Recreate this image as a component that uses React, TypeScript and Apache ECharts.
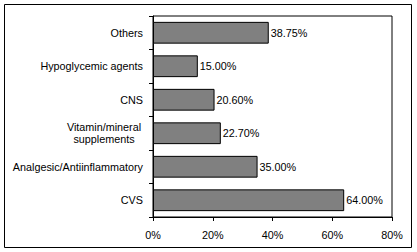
import React, { useEffect, useRef } from "react";
import * as echarts from "echarts";

const categories = [
  "CVS",
  "Analgesic/Antiinflammatory",
  "Vitamin/mineral supplements",
  "CNS",
  "Hypoglycemic agents",
  "Others",
];
const values = [64.0, 35.0, 22.7, 20.6, 15.0, 38.75];
const xTicks = [0, 20, 40, 60, 80];

export default function App() {
  const ref = useRef<HTMLDivElement>(null);
  useEffect(() => {
    document.body.style.margin = "0";
    const chart = echarts.init(ref.current!, null, { renderer: "svg" });
    const font = "Arial, 'Liberation Sans', sans-serif";
    const fs = 10.8;
    chart.setOption({
      animation: false,
      backgroundColor: "#fff",
      graphic: [
        {
          type: "rect",
          shape: { x: 4.5, y: 4.5, width: 407, height: 243 },
          style: { fill: "none", stroke: "#000", lineWidth: 1 },
          silent: true,
        },
      ],
      grid: {
        left: 153,
        top: 16,
        right: 25,
        bottom: 35,
        show: true,
        borderColor: "#000",
        borderWidth: 1,
        backgroundColor: "transparent",
      },
      xAxis: {
        type: "value",
        min: 0,
        max: 80,
        interval: 20,
        splitLine: { show: false },
        axisLine: { show: true, lineStyle: { color: "#000" } },
        axisTick: { show: true, length: 4, lineStyle: { color: "#000" } },
        axisLabel: {
          color: "#000",
          fontFamily: font,
          fontSize: fs,
          margin: 12,
          formatter: (v: number) => (xTicks.includes(v) ? v + "%" : ""),
        },
      },
      yAxis: {
        type: "category",
        data: categories,
        axisLine: { show: true, lineStyle: { color: "#000" } },
        axisTick: { show: true, length: 4, lineStyle: { color: "#000" } },
        axisLabel: {
          color: "#000",
          fontFamily: font,
          fontSize: fs,
          margin: 10,
          formatter: (v: string) =>
            v === "Vitamin/mineral supplements"
              ? "{c|Vitamin/mineral}\n{c|supplements}"
              : v,
          rich: {
            c: {
              width: 78,
              align: "center",
              fontFamily: font,
              fontSize: fs,
              color: "#000",
              lineHeight: 12,
            },
          },
        },
      },
      series: [
        {
          type: "bar",
          data: values,
          barCategoryGap: "35%",
          itemStyle: { color: "#808080", borderColor: "#000", borderWidth: 1 },
          label: {
            show: true,
            position: "right",
            distance: 2,
            color: "#000",
            fontFamily: font,
            fontSize: fs,
            formatter: (p: any) => p.value.toFixed(2) + "%",
          },
        },
      ],
    });
    return () => chart.dispose();
  }, []);
  return <div ref={ref} style={{ width: 417, height: 252 }} />;
}
